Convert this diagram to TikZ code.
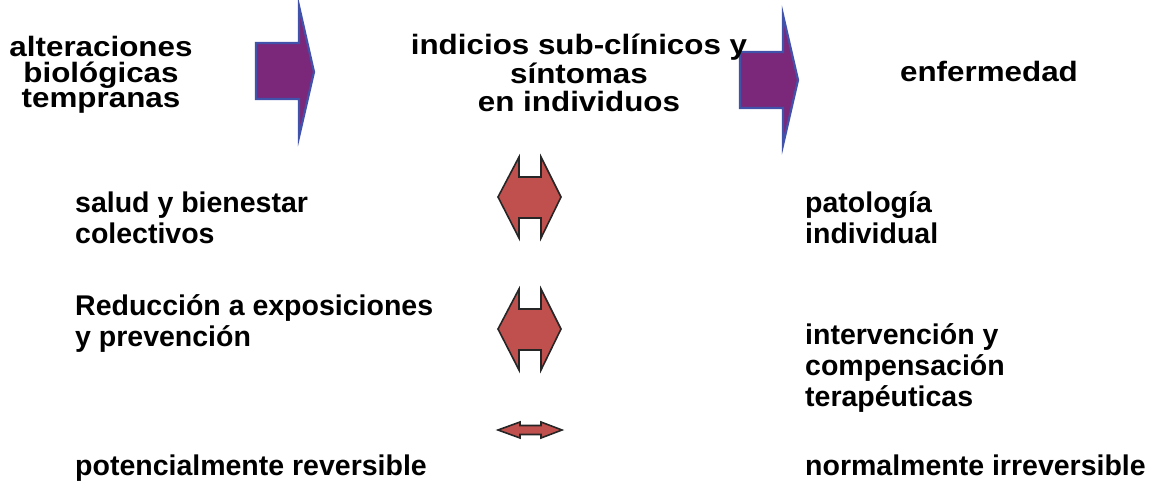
\documentclass[tikz,border=0pt]{standalone}
\usepackage{fontspec}
\setmainfont{Liberation Sans}
\definecolor{arrowpurple}{RGB}{123,40,122}
\definecolor{arrowblue}{RGB}{64,82,170}
\definecolor{arrowred}{RGB}{192,80,77}
\definecolor{arrowedge}{RGB}{38,38,38}
\begin{document}
\begin{tikzpicture}[x=1pt,y=-1pt,
  lowlbl/.style={font=\fontsize{28.5}{#1}\selectfont\bfseries, inner sep=0pt, align=left, anchor=base west},
  lowlbl/.default=30.5,
  toplbl/.style={font=\fontsize{28}{#1}\selectfont\bfseries, inner sep=0pt, align=center, anchor=base, xscale=1.12},
  fwd/.style={fill=arrowpurple, draw=arrowblue, line width=2.2pt, line join=miter},
  dbl/.style={fill=arrowred, draw=arrowedge, line width=1.6pt, line join=miter}]
\useasboundingbox (0,0) rectangle (1161,481);
% forward arrows
\draw[fwd] (256,43) -- (299,43) -- (299,6) -- (314,72) -- (299,137) -- (299,99) -- (256,99) -- cycle;
\draw[fwd] (740,52) -- (783,52) -- (783,15) -- (798,80) -- (783,145) -- (783,108) -- (740,108) -- cycle;
% double arrows
\draw[dbl] (498,197) -- (519,157) -- (519,177) -- (541,177) -- (541,157) -- (561,197) -- (541,238) -- (541,218) -- (519,218) -- (519,238) -- cycle;
\draw[dbl] (498,329) -- (519,289) -- (519,309) -- (541,309) -- (541,289) -- (561,329) -- (541,370) -- (541,350) -- (519,350) -- (519,370) -- cycle;
\draw[dbl] (498,430) -- (520,422) -- (520,425.5) -- (541,425.5) -- (541,422) -- (562,430) -- (541,438) -- (541,434.5) -- (520,434.5) -- (520,438) -- cycle;
% top labels (anchor = baseline of last line)
\node[toplbl=25.5] (alt) at (101,108) {alteraciones\\biológicas\\tempranas};
\node[toplbl=28.5] (ind) at (579,112) {indicios sub-clínicos y\\síntomas\\en individuos};
\node[toplbl=28] (enf) at (989,82) {enfermedad};
% lower labels (anchor = baseline of last line)
\node[lowlbl] (sal) at (75,243) {salud y bienestar\\colectivos};
\node[lowlbl] (red) at (75,346) {Reducción a exposiciones\\y prevención};
\node[lowlbl] (pot) at (75,475) {potencialmente reversible};
\node[lowlbl=31] (pat) at (805,243) {patología\\individual};
\node[lowlbl=31] (int) at (805,406) {intervención y\\compensación\\terapéuticas};
\node[lowlbl] (nor) at (805,475) {normalmente irreversible};
\end{tikzpicture}
\end{document}
